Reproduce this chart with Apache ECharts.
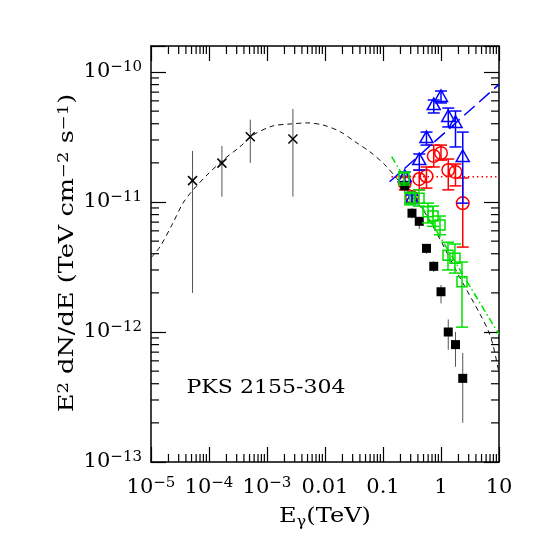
<!DOCTYPE html>
<html>
<head>
<meta charset="utf-8">
<script src="https://cdn.jsdelivr.net/npm/echarts@6/dist/echarts.min.js"></script>
<style>
  html, body { margin: 0; padding: 0; background: #fff; }
  #chart { width: 545px; height: 545px; }
</style>
</head>
<body>
<div id="chart"></div>
<script>
// low energy points (x), E in TeV, E2dN/dE in TeV cm-2 s-1
const crossE = [5.2e-5, 1.67e-4, 5.15e-4, 2.8e-3];
const crossF = [1.46e-11, 1.99e-11, 3.18e-11, 3.05e-11];
const crossLo = [2.0e-12, 1.1e-11, 2.0e-11, 1.1e-11];
const crossHi = [2.47e-11, 2.7e-11, 4.3e-11, 5.2e-11];

// TeV bins shared by the black / red / blue spectra
const binE = [0.237, 0.316, 0.422, 0.562, 0.750, 1.0, 1.334, 1.778, 2.371];

const blackF = [1.33e-11, 8.2e-12, 7.1e-12, 4.4e-12, 3.2e-12, 2.04e-12, 1.0e-12, 8.0e-13, 4.4e-13];
const blackLo = [1.19e-11, 7.5e-12, 6.2e-12, 4.0e-12, 2.9e-12, 1.66e-12, 7.3e-13, 5.4e-13, 2.0e-13];
const blackHi = [1.48e-11, 9.0e-12, 7.7e-12, 4.75e-12, 3.5e-12, 2.3e-12, 1.25e-12, 1.0e-12, 6.9e-13];

const redF = [1.40e-11, 1.09e-11, 1.50e-11, 1.58e-11, 2.26e-11, 2.38e-11, 1.76e-11, 1.70e-11, 9.8e-12];
const redLo = [1.24e-11, 9.8e-12, 1.24e-11, 1.28e-11, 1.86e-11, 2.10e-11, 1.24e-11, 1.33e-11, 4.5e-12];
const redHi = [1.58e-11, 1.17e-11, 1.76e-11, 1.86e-11, 2.74e-11, 2.74e-11, 2.14e-11, 1.96e-11, 1.53e-11];

const blueF = [1.56e-11, 1.06e-11, 2.10e-11, 3.10e-11, 5.57e-11, 6.43e-11, 4.51e-11, 4.06e-11, 2.22e-11];
const blueLo = [1.40e-11, 9.7e-12, 1.76e-11, 2.74e-11, 4.84e-11, 5.78e-11, 3.78e-11, 2.65e-11, 9.8e-12];
const blueHi = [1.70e-11, 1.13e-11, 2.34e-11, 3.45e-11, 6.09e-11, 7.14e-11, 5.28e-11, 5.01e-11, 3.45e-11];

const greenE = [0.230, 0.292, 0.418, 0.597, 0.728, 0.961, 1.32, 1.74, 2.30];
const greenF = [1.53e-11, 1.07e-11, 1.07e-11, 8.4e-12, 7.8e-12, 6.65e-12, 3.9e-12, 3.7e-12, 2.43e-12];
const greenLo = [1.35e-11, 9.5e-12, 9.3e-12, 6.9e-12, 6.5e-12, 5.6e-12, 3.0e-12, 2.84e-12, 1.09e-12];
const greenHi = [1.70e-11, 1.19e-11, 1.24e-11, 9.8e-12, 9.3e-12, 7.8e-12, 4.9e-12, 4.75e-12, 3.45e-12];

// model curve (black dashed)
const modelE = [1e-5, 1.43e-5, 2.39e-5, 3.56e-5, 5.3e-5, 9.25e-5, 1.74e-4, 3.42e-4, 5.74e-4, 1.27e-3,
  2.49e-3, 4.9e-3, 9.25e-3, 0.01816, 0.0329, 0.0597, 0.108, 0.172, 0.49, 0.789, 2.0, 4.7, 6.46, 7.89, 9.62, 10];
const modelF = [3.72e-12, 4.53e-12, 6.89e-12, 9.82e-12, 1.236e-11, 1.614e-11, 2.1e-11, 2.66e-11, 3.27e-11, 3.85e-11,
  3.98e-11, 4.06e-11, 3.91e-11, 3.48e-11, 2.91e-11, 2.43e-11, 1.93e-11, 1.52e-11, 8.67e-12, 6.1e-12, 2.75e-12, 1.374e-12,
  1.035e-12, 7.94e-13, 5.28e-13, 4.9e-13];

// power law fits
const greenFitE = [0.141, 10];
const greenFitF = [2.23e-11, 9.57e-13];
const blueFitE = [0.13, 10];
const blueFitF = [1.43e-11, 8.04e-11];
const redFitE = [0.14, 10];
const redFitF = [1.567e-11, 1.567e-11];

const xTickE = [1e-5, 1e-4, 1e-3, 0.01, 0.1, 1, 10];
const xTickLabels = ['10^−5', '10^−4', '10^−3', '0.01', '0.1', '1', '10'];
const yTickF = [1e-13, 1e-12, 1e-11, 1e-10];
const yTickLabels = ['10^−13', '10^−12', '10^−11', '10^−10'];

const FONT = '"DejaVu Serif", serif';
const lg = Math.log10;

const sup = (t) => {
  const [a, b] = t.split('^');
  return '{b|' + a + '}' + (b ? '{s|' + b + '}' : '');
};
const tickFormatter = (values, labels) => (v) => {
  const r = Math.round(v);
  if (Math.abs(v - r) > 1e-6) return '';
  const i = values.findIndex((t) => Math.round(lg(t)) === r);
  return i < 0 ? '' : sup(labels[i]);
};
const labelRich = {
  b: { fontFamily: FONT, fontSize: 21, lineHeight: 24, color: '#000' },
  s: { fontFamily: FONT, fontSize: 15, lineHeight: 17, verticalAlign: 'top', color: '#000' },
};

const axisBase = {
  type: 'value',
  interval: 1,
  axisLine: { show: true, onZero: false, lineStyle: { color: '#000', width: 1.5 } },
  axisTick: { show: true, inside: true, length: 15, lineStyle: { color: '#000', width: 1.2 } },
  splitLine: { show: false },
};

// log10 minor tick positions (2..9 in each decade)
const minorX = [];
for (let d = -5; d < 1; d++) for (let m = 2; m <= 9; m++) minorX.push(d + lg(m));
const minorY = [];
for (let d = -13; d < -9; d++) for (let m = 2; m <= 9; m++) if (d + lg(m) < -9.8) minorY.push(d + lg(m));

const minorSeries = {
  type: 'custom',
  silent: true,
  z: 1,
  data: minorX.map((v) => [v, -13, 0]).concat(minorY.map((v) => [-5, v, 1])),
  encode: { x: 0, y: 1 },
  renderItem: (params, api) => {
    const cs = params.coordSys;
    const p = api.coord([api.value(0), api.value(1)]);
    const st = { stroke: '#000', lineWidth: 1.2 };
    if (api.value(2) === 0) {
      return { type: 'group', children: [
        { type: 'line', shape: { x1: p[0], y1: cs.y + cs.height, x2: p[0], y2: cs.y + cs.height - 8 }, style: st },
        { type: 'line', shape: { x1: p[0], y1: cs.y, x2: p[0], y2: cs.y + 8 }, style: st },
      ] };
    }
    return { type: 'group', children: [
      { type: 'line', shape: { x1: cs.x, y1: p[1], x2: cs.x + 8, y2: p[1] }, style: st },
      { type: 'line', shape: { x1: cs.x + cs.width, y1: p[1], x2: cs.x + cs.width - 8, y2: p[1] }, style: st },
    ] };
  },
};

const marker = (shape, c, color) => {
  const [x, y] = c;
  const st = { stroke: color, lineWidth: 1.5, fill: 'none' };
  if (shape === 'circle') return { type: 'circle', shape: { cx: x, cy: y, r: 6.3 }, style: st };
  if (shape === 'triangle') {
    return { type: 'polygon', shape: { points: [[x, y - 7], [x - 6.5, y + 4.5], [x + 6.5, y + 4.5]] }, style: st };
  }
  if (shape === 'square') return { type: 'rect', shape: { x: x - 5, y: y - 5, width: 10, height: 10 }, style: st };
  if (shape === 'filled') return { type: 'rect', shape: { x: x - 4.5, y: y - 4.5, width: 9, height: 9 }, style: { fill: color } };
  // cross
  return { type: 'group', children: [
    { type: 'line', shape: { x1: x - 4.5, y1: y - 4.5, x2: x + 4.5, y2: y + 4.5 }, style: st },
    { type: 'line', shape: { x1: x - 4.5, y1: y + 4.5, x2: x + 4.5, y2: y - 4.5 }, style: st },
  ] };
};

const pointSeries = (name, E, F, lo, hi, opt) => ({
  name,
  type: 'custom',
  z: opt.z,
  data: E.map((e, i) => [lg(e), lg(F[i]), lg(lo[i]), lg(hi[i])]),
  encode: { x: 0, y: 1 },
  renderItem: (params, api) => {
    const x = api.value(0);
    const c = api.coord([x, api.value(1)]);
    const a = api.coord([x, api.value(2)]);
    const b = api.coord([x, api.value(3)]);
    const bar = { stroke: opt.barColor, lineWidth: opt.barWidth };
    const children = [{ type: 'line', shape: { x1: c[0], y1: a[1], x2: c[0], y2: b[1] }, style: bar }];
    if (opt.cap) {
      children.push({ type: 'line', shape: { x1: c[0] - opt.cap / 2, y1: a[1], x2: c[0] + opt.cap / 2, y2: a[1] }, style: bar });
      children.push({ type: 'line', shape: { x1: c[0] - opt.cap / 2, y1: b[1], x2: c[0] + opt.cap / 2, y2: b[1] }, style: bar });
    }
    children.push(marker(opt.shape, c, opt.color));
    return { type: 'group', children };
  },
});

const lineSeries = (name, E, F, color, width, dash) => ({
  name,
  type: 'line',
  z: 2,
  showSymbol: false,
  smooth: name === 'model' ? 0.3 : false,
  data: E.map((e, i) => [lg(e), lg(F[i])]),
  lineStyle: { color, width, type: dash },
});

const option = {
  animation: false,
  backgroundColor: '#fff',
  grid: { left: 151, top: 46, right: 46, bottom: 83, outerBoundsMode: 'none', containLabel: false },
  xAxis: [
    Object.assign({}, axisBase, {
      position: 'bottom', min: -5, max: 1,
      axisLabel: { margin: 14, formatter: tickFormatter(xTickE, xTickLabels), rich: labelRich },
    }),
    Object.assign({}, axisBase, { position: 'top', min: -5, max: 1, axisLabel: { show: false } }),
  ],
  yAxis: [
    Object.assign({}, axisBase, {
      position: 'left', min: -13, max: -9.8,
      axisLabel: { margin: 9, formatter: tickFormatter(yTickF, yTickLabels), rich: labelRich },
    }),
    Object.assign({}, axisBase, { position: 'right', min: -13, max: -9.8, axisLabel: { show: false } }),
  ],
  graphic: [
    {
      type: 'text', x: 68, y: 253, rotation: Math.PI / 2, scaleX: 1.28,
      style: {
        text: '{t|E}{u|2}{t| dN/dE (TeV cm}{u|−2}{t| s}{u|−1}{t|)}',
        align: 'center', verticalAlign: 'middle', fill: '#000',
        rich: {
          t: { fontFamily: FONT, fontSize: 20, lineHeight: 22, fill: '#000' },
          u: { fontFamily: FONT, fontSize: 14, lineHeight: 15, verticalAlign: 'top', fill: '#000' },
        },
      },
    },
    {
      type: 'text', x: 325, y: 517, scaleX: 1.15,
      style: {
        text: '{t|E}{d|γ}{t|(TeV)}',
        align: 'center', verticalAlign: 'middle', fill: '#000',
        rich: {
          t: { fontFamily: FONT, fontSize: 21, lineHeight: 24, fill: '#000' },
          d: { fontFamily: FONT, fontSize: 14, lineHeight: 16, verticalAlign: 'bottom', fill: '#000' },
        },
      },
    },
    {
      type: 'text', x: 266, y: 388, scaleX: 1.16,
      style: { text: 'PKS 2155-304', fontFamily: FONT, fontSize: 19, align: 'center', verticalAlign: 'middle', fill: '#000' },
    },
  ],
  series: [
    minorSeries,
    lineSeries('model', modelE, modelF, '#111', 1, [5, 4]),
    lineSeries('fitGreen', greenFitE, greenFitF, '#00e000', 1.5, [7, 3, 1.5, 3]),
    lineSeries('fitBlue', blueFitE, blueFitF, '#0000ff', 1.5, [14, 6]),
    lineSeries('fitRed', redFitE, redFitF, '#ff0000', 1.5, [1.5, 3]),
    pointSeries('x', crossE, crossF, crossLo, crossHi, { z: 3, shape: 'cross', color: '#000', barColor: '#555', barWidth: 1 }),
    pointSeries('red', binE, redF, redLo, redHi, { z: 3, shape: 'circle', color: '#ff0000', barColor: '#ff0000', barWidth: 1.5, cap: 12 }),
    pointSeries('blue', binE, blueF, blueLo, blueHi, { z: 4, shape: 'triangle', color: '#0000ff', barColor: '#0000ff', barWidth: 1.5, cap: 12 }),
    pointSeries('black', binE, blackF, blackLo, blackHi, { z: 5, shape: 'filled', color: '#000', barColor: '#555', barWidth: 1 }),
    pointSeries('green', greenE, greenF, greenLo, greenHi, { z: 6, shape: 'square', color: '#00e000', barColor: '#00e000', barWidth: 1.5, cap: 12 }),
  ],
};

const myChart = echarts.init(document.getElementById('chart'));
myChart.setOption(option);
</script>
</body>
</html>
